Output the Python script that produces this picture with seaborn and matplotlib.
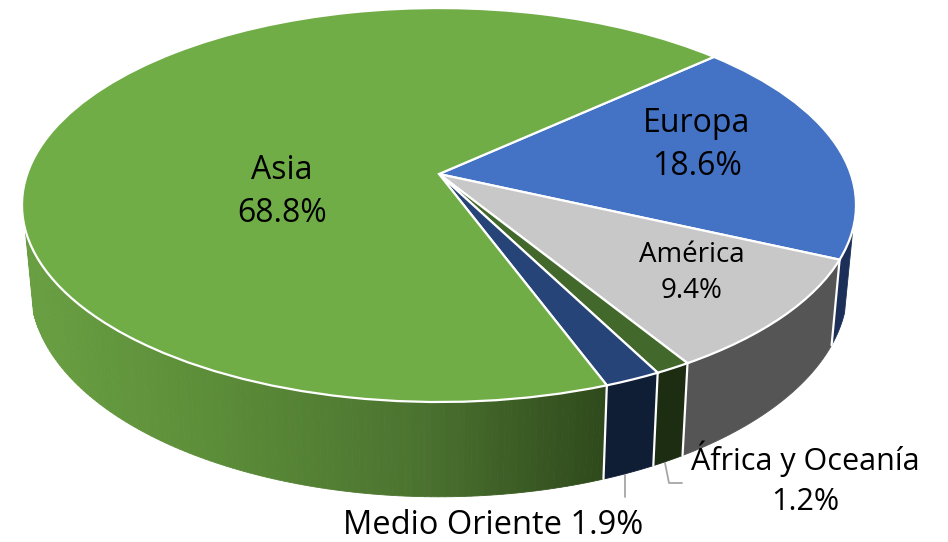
import numpy as np
import seaborn as sns
import matplotlib.pyplot as plt
import matplotlib.transforms as mtransforms

sns.set_theme(style='white')
plt.rcParams['font.family'] = ['Open Sans', 'DejaVu Sans']

# datos
regiones = ['Europa', 'América', 'África y Oceanía', 'Medio Oriente', 'Asia']
valores = [18.6, 9.4, 1.2, 1.9, 68.8]
colores = ['#4472C4', '#C8C8C8', '#43682B', '#264478', '#70AD47']
colores_lado = ['#1B2F58', '#555555', '#1C2D12', '#0F1D35']
degradado_asia = ['#699F42', '#5B8C38', '#4C7430', '#2F4A1C']

# perspectiva del disco (pixeles de la imagen)
CX, CY = 439, 174
AX_X, AX_Y, K = 411.8, 192.1, 0.1574
ALTO, ESC_X, ESC_Y = 80, 0.98, 1.065


def proyectar(x, y):
    d = 1 + K * y
    return CX + AX_X * x / d, CY - AX_Y * y / d


class Perspectiva(mtransforms.Transform):
    input_dims = 2
    output_dims = 2

    def transform_non_affine(self, values):
        values = np.asarray(values)
        px, py = proyectar(values[:, 0], values[:, 1])
        return np.column_stack([px, py])


def borde_sup(theta):
    return proyectar(np.cos(np.radians(theta)), np.sin(np.radians(theta)))


def borde_inf(theta):
    px, py = borde_sup(theta)
    return CX + (px - CX) * ESC_X, CY + ALTO + (py - CY) * ESC_Y


fig = plt.figure(figsize=(9.48, 5.42), dpi=100)
ax = fig.add_axes([0, 0, 1, 1])

# tapa superior
wedges, _ = ax.pie(valores, colors=colores, startangle=42.4, counterclock=False,
                   wedgeprops={'edgecolor': 'white', 'linewidth': 1.6, 'zorder': 3})
persp = Perspectiva()
for w in wedges:
    w.set_transform(persp + ax.transData)

# pared lateral, solo la parte visible
lim_izq, lim_der = -164, -16
for i, w in enumerate(wedges):
    t0, t1 = max(w.theta1, lim_izq), min(w.theta2, lim_der)
    if regiones[i] == 'Asia':
        n = 120
        pal = sns.blend_palette(degradado_asia, n)
        tiras = np.linspace(t0, t1, n + 1)
        for a, b in zip(tiras[:-1], tiras[1:]):
            xa, ya = borde_sup(np.array([a, b]))
            xb, yb = borde_inf(np.array([b, a]))
            f = (xa[0] - 22) / (605 - 22)
            c = pal[int(np.clip(f, 0, 0.999) * n)]
            ax.fill(np.r_[xa, xb], np.r_[ya, yb], color=c, lw=0.6, zorder=2)
    else:
        t = np.linspace(t0, t1, 40)
        xa, ya = borde_sup(t)
        xb, yb = borde_inf(t[::-1])
        ax.fill(np.r_[xa, xb], np.r_[ya, yb], color=colores_lado[i], lw=0.6, zorder=2)

# separadores blancos de la pared
for w in wedges[:-1]:
    xa, ya = borde_sup(w.theta1)
    xb, yb = borde_inf(w.theta1)
    ax.plot([xa, xb], [ya, yb], color='white', lw=1.6, zorder=2.5)

# lineas guia
ax.plot([625, 625], [475, 497], color='#A6A6A6', lw=1.3, zorder=1)
ax.plot([665, 669, 682], [463, 483, 483], color='#A6A6A6', lw=1.3, zorder=1)

# etiquetas
ax.text(282, 192, f'{regiones[4]}\n{valores[4]}%', fontsize=23, ha='center', va='center',
        color='black', linespacing=1.38, zorder=4)
ax.text(697, 145, f'{regiones[0]}\n{valores[0]}%', fontsize=23, ha='center', va='center',
        color='black', linespacing=1.38, zorder=4)
ax.text(692, 273, f'{regiones[1]}\n{valores[1]}%', fontsize=20, ha='center', va='center',
        color='black', linespacing=1.36, zorder=4)
ax.text(805, 479, f'{regiones[2]}\n{valores[2]}%', fontsize=22, ha='center', va='center',
        color='black', linespacing=1.45, zorder=4)
ax.text(493, 526, f'{regiones[3]} {valores[3]}%', fontsize=23.5, ha='center', va='center',
        color='black', zorder=4)

ax.set_aspect('auto')
ax.set_xlim(0, 948)
ax.set_ylim(542, 0)
ax.axis('off')

plt.savefig('out.png', dpi=100)
